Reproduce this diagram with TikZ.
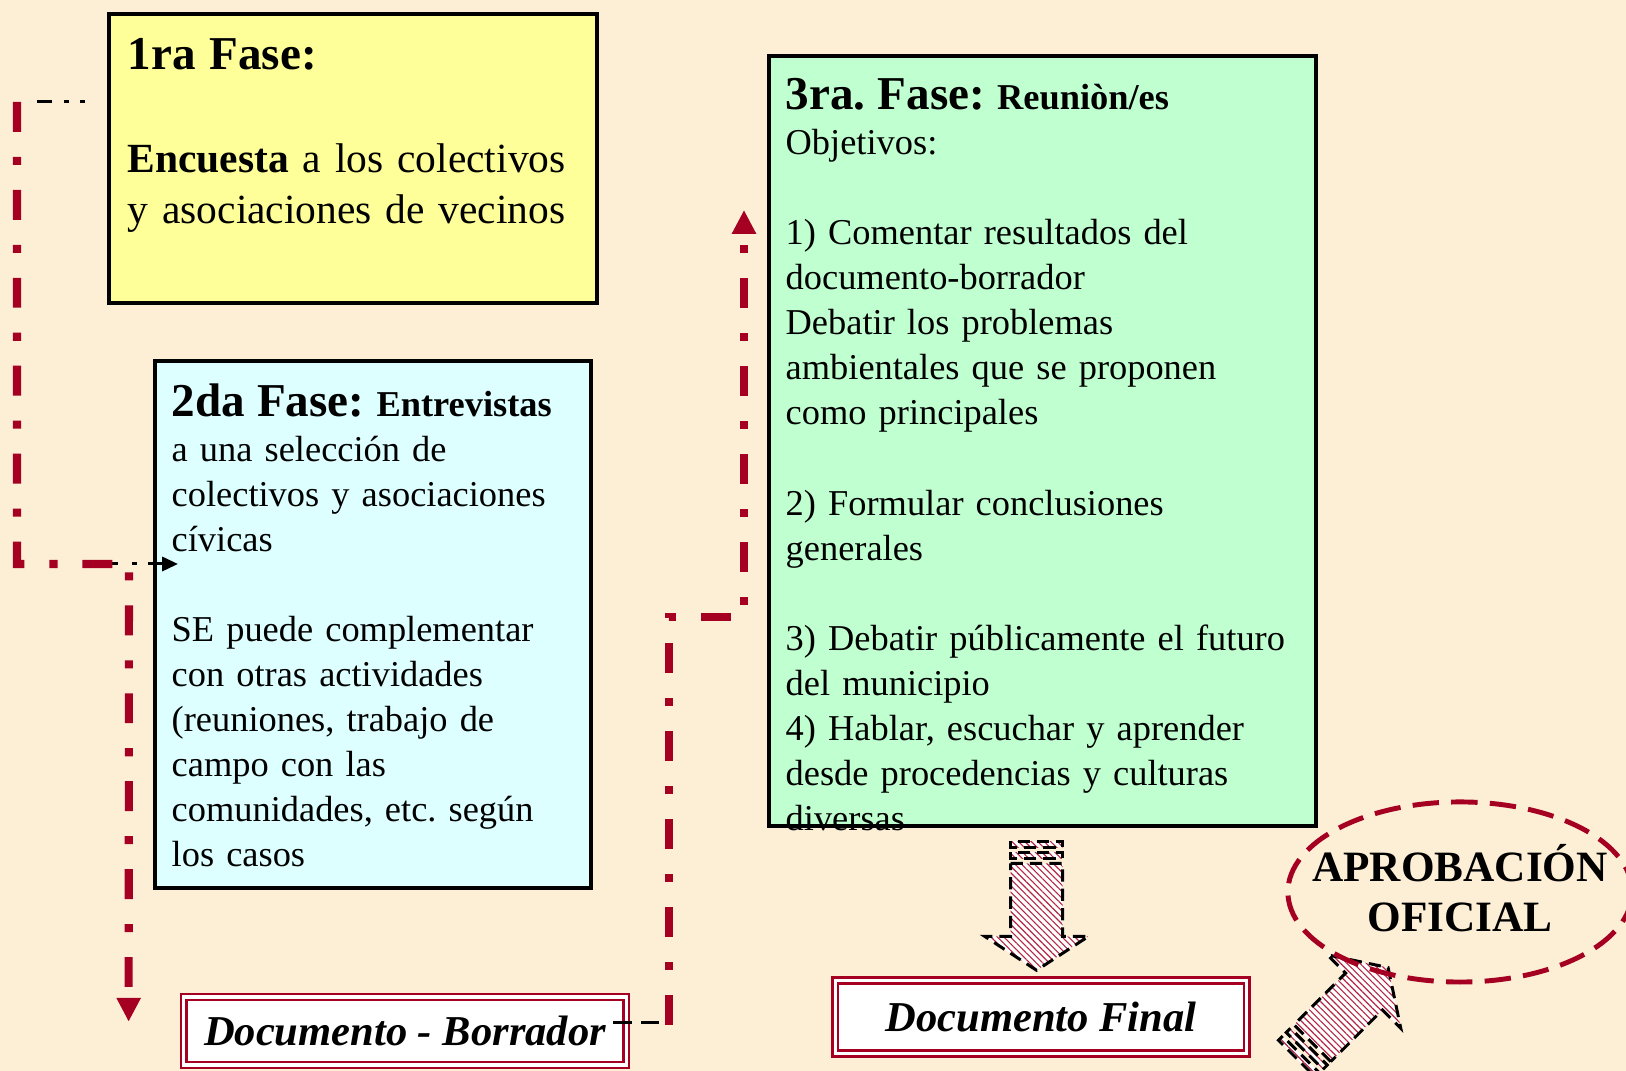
\documentclass[tikz,border=0pt]{standalone}
\usepackage{fontspec}
\setmainfont{Liberation Serif}
\usetikzlibrary{positioning, shapes.geometric, arrows.meta, patterns.meta}
\frenchspacing

\definecolor{bgpaper}{RGB}{252,239,214}
\definecolor{phaseyellow}{RGB}{255,255,153}
\definecolor{phasecyan}{RGB}{221,255,255}
\definecolor{phasegreen}{RGB}{192,255,208}
\definecolor{darkred}{RGB}{165,0,33}

\newcommand{\phasetitle}{\fontsize{13.4}{12.8}\selectfont\bfseries}
\newcommand{\phasebody}{\fontsize{10.35}{12.8}\selectfont}

\tikzset{
stripedarrow/.pic={
  \path[arrowbody] (-26,0) rectangle (26,6);
  \path[arrowbody] (-26,11) rectangle (26,17);
  \path[arrowbody] (-26,22) -- (26,22) -- (26,95) -- (52,95) -- (0,129) -- (-52,95) -- (-26,95) -- cycle;
}
}

\begin{document}
\begin{tikzpicture}[x=0.01cm, y=-0.01cm,
phase/.style={rectangle, draw=black, line width=1.1pt, anchor=north west, inner sep=0pt},
phasetext/.style={inner sep=0pt, align=left, font=\phasebody},
docbox/.style={rectangle, draw=darkred, line width=0.7pt, double=white, double distance=0.9pt, fill=white, inner sep=0pt, font=\fontsize{12.1}{14}\selectfont\bfseries\itshape},
redline/.style={draw=darkred, line width=2.3pt, dash pattern=on 8.5pt off 7.1pt on 2.3pt off 7.1pt, -{Triangle[length=6.8pt,width=6.5pt]}},
blackline/.style={draw=black, line width=0.85pt},
arrowbody/.style={draw=black, line width=0.85pt, dash pattern=on 3.5pt off 2pt, preaction={fill=white}, pattern={Lines[angle=-45,distance=1.3pt,line width=0.32pt]}, pattern color=darkred!85}
]
\useasboundingbox (0,0) rectangle (1626,1071);
\fill[bgpaper] (0,0) rectangle (1626,1071);

%Phases
\node[phase, fill=phaseyellow, minimum width=4.88cm, minimum height=2.89cm] (f1) at (107,12) {};
\node[phase, fill=phasecyan,   minimum width=4.36cm, minimum height=5.27cm] (f2) at (153,359) {};
\node[phase, fill=phasegreen,  minimum width=5.47cm, minimum height=7.70cm] (f3) at (767,54) {};

\node[phasetext, text width=4.7cm, font=\fontsize{11.8}{14.6}\selectfont, below right=0.26cm and 0.20cm of f1.north west] (f1t)
{{\phasetitle 1ra Fase:}\\[14.6pt]
\textbf{Encuesta} a los colectivos\\
y asociaciones de vecinos};

\node[phasetext, text width=4.1cm, below right=0.24cm and 0.18cm of f2.north west] (f2t)
{{\phasetitle 2da Fase:} \textbf{Entrevistas}\\
a una selección de\\
colectivos y asociaciones\\
cívicas\\[12.8pt]
SE puede complementar\\
con otras actividades\\
(reuniones, trabajo de\\
campo con las\\
comunidades, etc. según\\
los casos};

\node[phasetext, text width=5.2cm, below right=0.24cm and 0.18cm of f3.north west] (f3t)
{{\phasetitle 3ra. Fase:} \textbf{Reuniòn/es}\\
Objetivos:\\[12.8pt]
1) Comentar resultados del\\
documento-borrador\\
Debatir los problemas\\
ambientales que se proponen\\
como principales\\[12.8pt]
2) Formular conclusiones\\
generales\\[12.8pt]
3) Debatir públicamente el futuro\\
del municipio\\
4) Hablar, escuchar y aprender\\
desde procedencias y culturas\\
diversas};

%Documents
\node[docbox, minimum width=4.42cm, minimum height=0.68cm] (fb) at (405,1031) {Documento - Borrador};
\node[docbox, minimum width=4.11cm, minimum height=0.73cm] (ff) at (1041,1017) {Documento Final};

%Block arrows
\pic at ([shift={(-6,13)}]f3.south) {stripedarrow};
\pic[rotate=135] at ([shift={(49,4)}]ff.south east) {stripedarrow};

\node[ellipse, draw=darkred, line width=1.4pt, dash pattern=on 7.5pt off 3.5pt, minimum width=3.44cm, minimum height=1.80cm] (ap) at (1460,892) {};
\node[align=center, inner sep=0pt, font=\fontsize{12.3}{14.2}\selectfont\bfseries] (apt) at (ap.center) {APROBACI\smash{Ó}N\\OFICIAL};

%Lines
\coordinate (t1) at ([shift={(-22,90)}]f1.north west);
\coordinate (e2) at ([shift={(25,205)}]f2.north west);
\coordinate (d1) at ([shift={(-54,26)}]fb.north west);
\coordinate (t2) at ([shift={(-14,27)}]fb.north east);
\coordinate (k3) at ([shift={(-23,563)}]f3.north west);
\coordinate (u3) at ([shift={(-23,156)}]f3.north west);

\draw[blackline, dash pattern=on 1.4pt off 3.1pt on 1.4pt off 3.4pt on 4.3pt off 3.4pt] (t1) -- ++(-52,0);
\draw[blackline, dash pattern=on 4.3pt off 4pt on 1.4pt off 3.1pt on 20pt, -{Triangle[length=4.5pt,width=4pt]}] ([shift={(-75,0)}]e2) -- (e2);
\draw[redline] ([shift={(-68,0)}]t1) |- ([shift={(-49,0)}]e2) -- (d1);
\draw[blackline, dash pattern=on 5.4pt off 2.5pt] (t2) -- ++(46,0);
\draw[redline] ([shift={(56,2)}]t2) |- (k3) -- (u3);
\end{tikzpicture}
\end{document}
